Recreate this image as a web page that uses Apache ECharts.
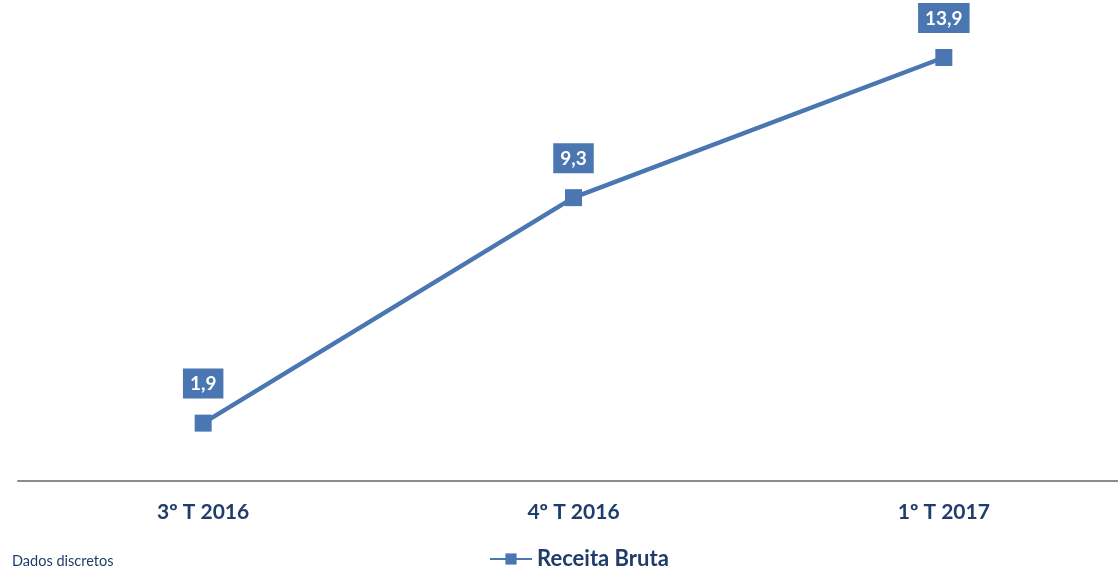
<!DOCTYPE html>
<html>
<head>
<meta charset="utf-8">
<script src="https://cdn.jsdelivr.net/npm/echarts@6/dist/echarts.min.js"></script>
<style>
  html, body { margin: 0; padding: 0; background: #fff; }
  #chart { width: 1118px; height: 566px; }
</style>
</head>
<body>
<div id="chart"></div>
<script>
  // dados
  var categories = ['3º T 2016', '4º T 2016', '1º T 2017'];
  var receitaBruta = [1.9, 9.3, 13.9];
  var seriesName = 'Receita Bruta';

  var chart = echarts.init(document.getElementById('chart'));
  var navy = '#1f3c6b';
  var blue = '#4a77b2';

  chart.setOption({
    animation: false,
    textStyle: { fontFamily: 'Lato' },
    grid: { left: 18, width: 1111, top: 24, bottom: 85, outerBoundsMode: 'none', containLabel: false },
    graphic: [{
      type: 'text',
      left: 12,
      top: 554,
      style: { text: 'Dados discretos', fill: navy, font: '14.5px Lato' }
    }],
    legend: {
      data: [seriesName],
      top: 543,
      left: 484,
      itemWidth: 42,
      itemHeight: 14,
      itemGap: 4,
      textStyle: { color: navy, fontSize: 22, fontWeight: 'bold', fontFamily: 'Lato' }
    },
    xAxis: {
      type: 'category',
      data: categories,
      axisLine: { lineStyle: { color: '#8c8c8c', width: 2 } },
      axisTick: { show: false },
      axisLabel: { color: navy, fontSize: 21, fontWeight: 'bold', margin: 21 }
    },
    yAxis: {
      type: 'value',
      min: 0,
      max: 15,
      show: false,
      splitLine: { show: false }
    },
    series: [{
      name: seriesName,
      type: 'line',
      data: receitaBruta,
      symbol: 'rect',
      symbolSize: 17,
      itemStyle: { color: blue },
      lineStyle: { color: blue, width: 4.5 },
      label: {
        show: true,
        position: 'top',
        distance: 16,
        formatter: function (p) { return String(p.value).replace('.', ','); },
        color: '#fff',
        fontSize: 19,
        fontWeight: 'bold',
        backgroundColor: blue,
        padding: [6, 7, 5, 7]
      }
    }]
  });
</script>
</body>
</html>
